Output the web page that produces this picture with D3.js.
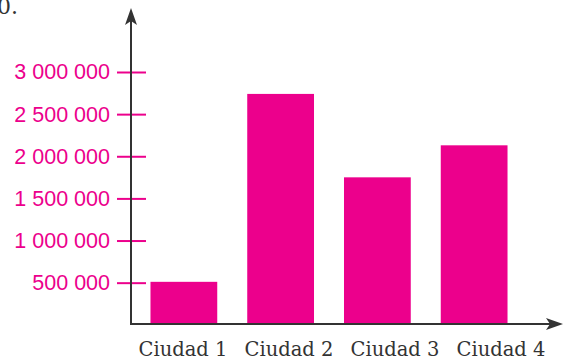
<!DOCTYPE html>
<html>
<head>
<meta charset="utf-8">
<script src="https://cdn.jsdelivr.net/npm/d3@7"></script>
<style>
  body { margin: 0; background: #fff; }
  svg { display: block; }
</style>
</head>
<body>
<div id="chart"></div>
<script>
// data
var cities = ["Ciudad 1", "Ciudad 2", "Ciudad 3", "Ciudad 4"];
var population = [510000, 2740000, 1750000, 2130000];
var tickValues = [500000, 1000000, 1500000, 2000000, 2500000, 3000000];
var tickLabels = ["500 000", "1 000 000", "1 500 000", "2 000 000", "2 500 000", "3 000 000"];

var pink = "#ec008c";
var axisColor = "#333333";

var width = 564, height = 362;
var svg = d3.select("#chart").append("svg").attr("width", width).attr("height", height);

var originX = 131, originY = 324;

// scales
var y_scale = d3.scaleLinear().domain([0, 3000000]).range([324.8, 72]);
var x_scale = d3.scaleBand().domain(cities).range([135, 523]).paddingInner(0.31).paddingOuter(0.16);
var label_scale = d3.scalePoint().domain(cities).range([183, 501]);

// leftover text from the page above
svg.append("text")
    .attr("x", -3)
    .attr("y", 14)
    .attr("font-family", "'DejaVu Serif', serif")
    .attr("font-size", 22)
    .attr("fill", axisColor)
    .text("0.");

// bars
svg.selectAll("rect.bar")
    .data(population)
    .enter()
    .append("rect")
    .attr("class", "bar")
    .attr("x", function (d, i) { return x_scale(cities[i]); })
    .attr("width", x_scale.bandwidth())
    .attr("y", function (d) { return y_scale(d); })
    .attr("height", function (d) { return y_scale(0) - y_scale(d); })
    .style("fill", pink);

// y axis ticks + labels
var y_axis = d3.axisLeft(y_scale)
    .tickValues(tickValues)
    .tickSize(29)
    .tickPadding(7)
    .tickFormat(function (d, i) { return tickLabels[i]; });

var yg = svg.append("g")
    .attr("transform", "translate(146,0)")
    .call(y_axis);
yg.select(".domain").remove();
yg.selectAll(".tick line").attr("stroke", pink).attr("stroke-width", 2);
yg.selectAll(".tick text")
    .attr("fill", pink)
    .attr("font-family", "'Liberation Sans', Arial, sans-serif")
    .attr("font-size", 21.5);

// axis lines with arrows
svg.append("line")
    .attr("x1", originX).attr("y1", originY + 1)
    .attr("x2", originX).attr("y2", 14)
    .attr("stroke", axisColor).attr("stroke-width", 2);
svg.append("line")
    .attr("x1", originX - 1).attr("y1", originY)
    .attr("x2", 556).attr("y2", originY)
    .attr("stroke", axisColor).attr("stroke-width", 2);

svg.append("path")
    .attr("d", "M" + originX + ",8 L" + (originX + 6) + ",25 L" + originX + ",21 L" + (originX - 6) + ",25 Z")
    .attr("fill", axisColor);
svg.append("path")
    .attr("d", "M563," + originY + " L546," + (originY - 6) + " L550," + originY + " L546," + (originY + 6) + " Z")
    .attr("fill", axisColor);

// category labels
svg.selectAll("text.cat")
    .data(cities)
    .enter()
    .append("text")
    .attr("class", "cat")
    .attr("x", function (d) { return label_scale(d); })
    .attr("y", 356)
    .attr("text-anchor", "middle")
    .attr("font-family", "'DejaVu Serif', serif")
    .attr("font-size", 19.5)
    .attr("fill", axisColor)
    .text(function (d) { return d; });
</script>
</body>
</html>
